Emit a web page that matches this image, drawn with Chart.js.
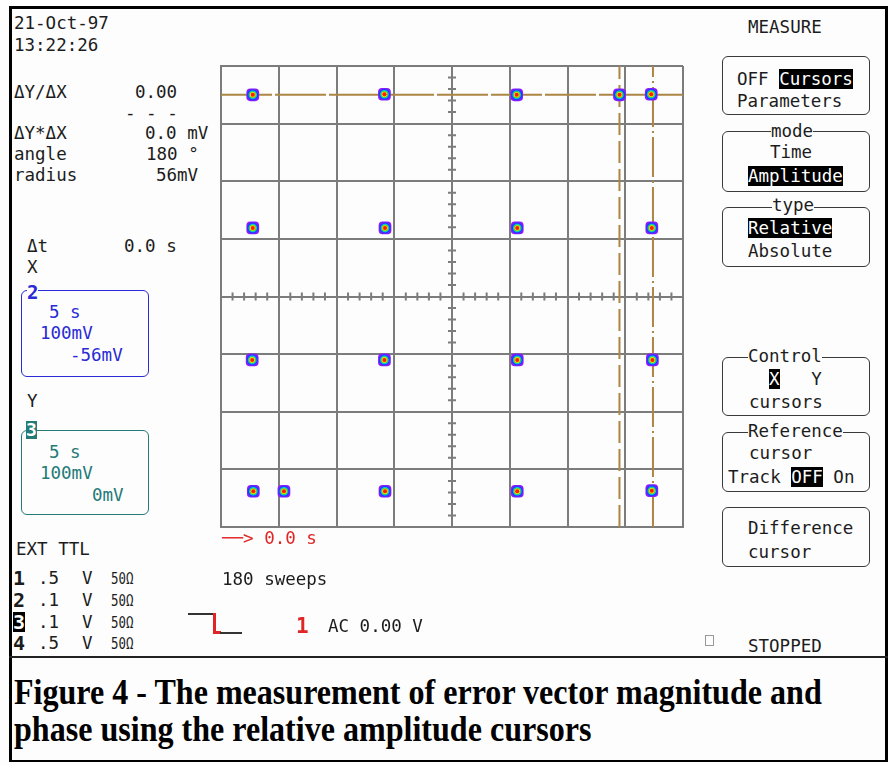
<!DOCTYPE html>
<html>
<head>
<meta charset="utf-8">
<script src="https://cdn.jsdelivr.net/npm/chart.js@4"></script>
<style>
body { margin:0; width:888px; height:765px; background:#fdfdfd; overflow:hidden; position:relative;
       font-family:"DejaVu Sans Mono", monospace; color:#1c1c1c; }
.t { position:absolute; white-space:pre; line-height:1; }
.inv { background:#000; color:#fff; }
.box { position:absolute; border:1.5px solid #3a3a3a; border-radius:6px; box-sizing:border-box; }
.lbl { background:#fdfdfd; }
.blue { color:#2a2ad6; }
.teal { color:#237a77; }
.red { color:#e02525; }
.ohm { transform:scaleX(0.8); transform-origin:0 0; }
.cap { font-family:"Liberation Serif", serif; font-weight:bold; color:#000; transform-origin:0 0; }
.ln { position:absolute; }
#scope { position:absolute; left:211px; top:56px; }
</style>
</head>
<body>
<canvas id="scope" width="482" height="481"></canvas>
<script>
const puntosI = [-345, -117, 112, 290, 345, -345, -116, 113, 346, -346, -117, 113, 347, -344, -291, -116, 113, 346];
const puntosQ = [350, 351, 350, 350, 351, 119, 119, 119, 119, -110, -110, -110, -110, -338, -338, -338, -338, -337];
// cursores
const cursorY = 350;
const cursorXRef = 348;
const cursorXDif = 290;
// escala: 100 mV por division, 8 divisiones
const ejeMin = -400;
const ejeMax = 400;
const paso = 100;
const pasoMenor = 20;

const capas = [
    { color: '#ff1a00', radio: 2, estilo: 'circle' },
    { color: '#f0e000', radio: 2.8, estilo: 'circle' },
    { color: '#30d040', radio: 3.5, estilo: 'circle' },
    { color: '#00c8e8', radio: 4.3, estilo: 'circle' },
    { color: '#2638ff', radio: 5.6, estilo: 'circle' },
    { color: '#8a1cff', radio: 7.4, estilo: 'rectRounded' }
];

const puntos = puntosI.map(function(x, i) { return { x: x, y: puntosQ[i] }; });
const datasets = capas.map(function(c) {
    return {
        data: puntos, pointRadius: c.radio, pointHoverRadius: c.radio,
        pointStyle: c.estilo, backgroundColor: c.color, borderWidth: 0, pointBorderWidth: 0
    };
});
const colorCursor = '#ad8545';
function cursor(pts, dash) {
    return { data: pts, showLine: true, pointRadius: 0, borderColor: colorCursor,
             borderWidth: 2, borderDash: dash, fill: false };
}
datasets.push(cursor([{ x: ejeMin, y: cursorY }, { x: ejeMax, y: cursorY }], [51, 3]));
datasets.push(cursor([{ x: cursorXDif, y: ejeMin }, { x: cursorXDif, y: ejeMax }], [22, 6]));
datasets.push(cursor([{ x: cursorXRef, y: ejeMin }, { x: cursorXRef, y: ejeMax }], [40, 4, 2, 4]));

// marcas menores sobre los ejes centrales
const marcasCentro = {
    id: 'marcasCentro',
    beforeDatasetsDraw: function(chart) {
        const ctx = chart.ctx, sx = chart.scales.x, sy = chart.scales.y;
        const cx = sx.getPixelForValue(0), cy = sy.getPixelForValue(0);
        ctx.save();
        ctx.strokeStyle = '#7c7c7c';
        ctx.lineWidth = 2;
        ctx.beginPath();
        for (let v = ejeMin; v <= ejeMax; v += pasoMenor) {
            if (v % paso === 0) continue;
            const px = sx.getPixelForValue(v), py = sy.getPixelForValue(v);
            ctx.moveTo(px, cy - 4); ctx.lineTo(px, cy + 4);
            ctx.moveTo(cx - 4, py); ctx.lineTo(cx + 4, py);
        }
        ctx.stroke();
        ctx.restore();
    }
};

const escala = {
    type: 'linear', min: ejeMin, max: ejeMax,
    ticks: { display: false, stepSize: paso },
    grid: { color: '#7c7c7c', lineWidth: 2, drawTicks: false },
    border: { color: '#7c7c7c', width: 2 }
};

new Chart(document.getElementById('scope'), {
    type: 'scatter',
    data: { datasets: datasets },
    options: {
        responsive: false, animation: false,
        layout: { padding: 10 },
        plugins: { legend: { display: false }, tooltip: { enabled: false } },
        scales: { x: escala, y: Object.assign({}, escala) }
    },
    plugins: [marcasCentro]
});

// textos de la pantalla
function pon(x, base, html, cls, fs) {
    fs = fs || 17.5;
    const d = document.createElement('div');
    d.className = 't ' + (cls || '');
    d.style.left = x + 'px';
    d.style.top = (base + 2 - 0.846 * fs) + 'px';
    d.style.fontSize = fs + 'px';
    d.innerHTML = html;
    document.body.appendChild(d);
    return d;
}
function caja(x, y, w, h, color, radio) {
    const d = document.createElement('div');
    d.className = 'box';
    d.style.left = x + 'px'; d.style.top = y + 'px';
    d.style.width = w + 'px'; d.style.height = h + 'px';
    if (color) d.style.borderColor = color;
    if (radio !== undefined) d.style.borderRadius = radio + 'px';
    document.body.appendChild(d);
}
function linea(x, y, w, h, color) {
    const d = document.createElement('div');
    d.className = 'ln';
    d.style.left = x + 'px'; d.style.top = y + 'px';
    d.style.width = w + 'px'; d.style.height = h + 'px';
    d.style.background = color;
    document.body.appendChild(d);
}

// marco
linea(9, 7, 3, 755, '#000');
linea(885, 7, 3, 755, '#000');
linea(9, 6, 879, 3, '#000');
linea(9, 656, 879, 2, '#222');
linea(9, 760, 879, 2, '#000');

pon(14, 28, '21-Oct-97');
pon(14, 50, '13:22:26');
pon(14, 97, 'ΔY/ΔX');   pon(135, 97, '0.00');
pon(125, 118, '- - -');
pon(14, 138, 'ΔY*ΔX');  pon(145, 138, '0.0 mV');
pon(14, 159, 'angle');  pon(146, 159, '180 °');
pon(14, 180, 'radius'); pon(156, 180, '56mV');
pon(27, 251, 'Δt');     pon(124, 251, '0.0 s');
pon(27, 272, 'X');

caja(21, 290, 128, 87, '#2a2ad6');
pon(27, 297, '2', 'blue lbl', 19).style.fontWeight = 'bold';
pon(49, 317, '5 s', 'blue');
pon(40, 338, '100mV', 'blue');
pon(70, 360, '-56mV', 'blue');
pon(27, 406, 'Y');
caja(21, 430, 128, 85, '#237a77');
const l3 = pon(26, 434, '3', '', 18);
l3.style.background = '#237a77'; l3.style.color = '#fff'; l3.style.fontWeight = 'bold';
pon(49, 457, '5 s', 'teal');
pon(40, 478, '100mV', 'teal');
pon(92, 500, '0mV', 'teal');

pon(16, 554, 'EXT TTL');
const filas = [['1', '.5', 583], ['2', '.1', 605], ['3', '.1', 627], ['4', '.5', 648]];
filas.forEach(function(f, i) {
    const n = pon(13, f[2], f[0], '', 20);
    n.style.fontWeight = 'bold';
    if (i === 2) { n.className += ' inv'; }
    pon(38, f[2], f[1]);
    pon(82, f[2], 'V');
    pon(111, f[2], '50Ω', 'ohm', 15.5);
});

pon(222, 543, '──> 0.0 s', 'red');
pon(222, 584, '180 sweeps');
linea(188, 613, 26, 2, '#333');
linea(213, 613, 3, 21, '#e02525');
linea(213, 631, 8, 3, '#e02525');
linea(220, 632, 22, 2, '#333');
pon(296, 632, '1', 'red', 21).style.fontWeight = 'bold';
pon(328, 631, 'AC 0.00 V');

// panel derecho
pon(748, 32, 'MEASURE');
caja(722, 56, 148, 59);
pon(737, 84, 'OFF <span class="inv">Cursors</span>');
pon(737, 106, 'Parameters');
caja(722, 131, 148, 61);
pon(771, 136, 'mode', 'lbl');
pon(770, 157, 'Time');
pon(748, 181, '<span class="inv">Amplitude</span>');
caja(722, 207, 148, 60);
pon(772, 210, 'type', 'lbl');
pon(748, 233, '<span class="inv">Relative</span>');
pon(748, 256, 'Absolute');
caja(722, 357, 148, 59);
pon(748, 361, 'Control', 'lbl');
pon(769, 384, '<span class="inv">X</span>   Y');
pon(749, 407, 'cursors');
caja(722, 432, 148, 60);
pon(748, 436, 'Reference', 'lbl');
pon(749, 458, 'cursor');
pon(728, 482, 'Track <span class="inv">OFF</span> On');
caja(722, 507, 148, 60);
pon(748, 533, 'Difference');
pon(748, 557, 'cursor');
caja(705, 635, 9, 11, '#999', 0);
pon(748, 651, 'STOPPED');

// pie de figura
const c1 = pon(14, 704, 'Figure 4 - The measurement of error vector magnitude and', 'cap', 35);
const c2 = pon(14, 741, 'phase using the relative amplitude cursors', 'cap', 35);
const k = 808 / c1.offsetWidth;
c1.style.transform = 'scaleX(' + k + ')';
c2.style.transform = 'scaleX(' + k + ')';
c1.style.top = (704 - 0.837 * 35) + 'px';
c2.style.top = (741 - 0.837 * 35) + 'px';
</script>
</body>
</html>
